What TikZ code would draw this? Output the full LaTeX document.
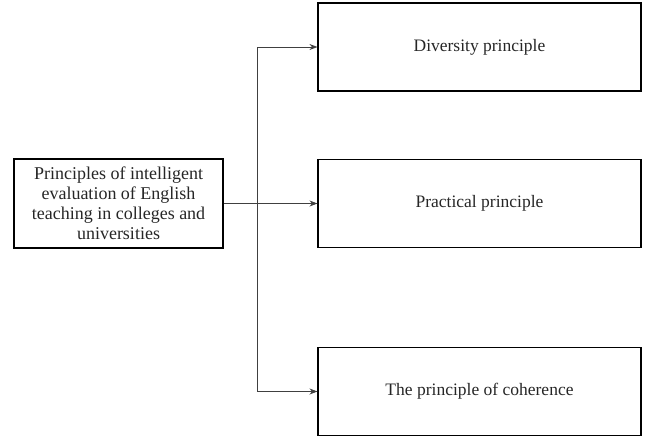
\documentclass[tikz,border=0pt]{standalone}
\usepackage{fontspec}
\setmainfont{Liberation Serif}
\usetikzlibrary{arrows.meta}
\begin{document}
\begin{tikzpicture}[x=1pt,y=-1pt,
  box/.style={draw=black, line width=1.1pt, minimum width=323pt, minimum height=88pt,
    inner sep=0pt, font=\fontsize{17.5}{21}\selectfont, text=black!85},
  src/.style={draw=black, line width=1.1pt, minimum width=209pt, minimum height=89pt,
    align=center, inner sep=0pt, font=\fontsize{18}{20}\selectfont, text=black!85},
  link/.style={draw=black!75, line width=0.8pt, -{Stealth[length=8pt,width=6pt]}}]
\useasboundingbox (0,0) rectangle (649,439);
% source box on the left
\node[src] (main) at (118.5,203.5) {Principles of intelligent\\evaluation of English\\teaching in colleges and\\universities};
% the three principles
\node[box] (div) at (479.5,47) {Diversity principle};
\node[box] (prac) at (479.5,203.5) {Practical principle};
\node[box] (coh) at (479.5,391.5) {The principle of coherence};
% branching connectors
\coordinate (top) at (257.5,47);
\coordinate (bot) at (257.5,391.5);
\draw[link] (main.east) -- (prac.west);
\draw[link] (top) -- (div.west);
\draw[link] (top) -- (bot) -- (coh.west);
\end{tikzpicture}
\end{document}
